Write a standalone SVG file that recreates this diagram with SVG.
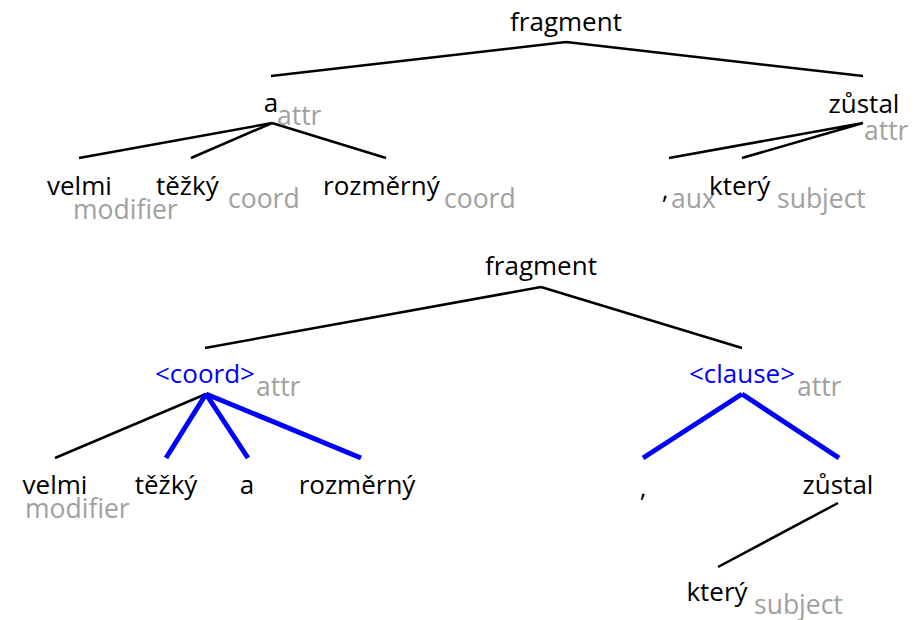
<svg xmlns="http://www.w3.org/2000/svg" width="924" height="620" viewBox="0 0 924 620">
<style>
text{font-family:"Open Sans","Noto Sans","DejaVu Sans",sans-serif;font-size:26px;fill:#000}
.s{font-size:26.5px;fill:#a0a0a0}
.b{fill:#0000ff}
.e{stroke:#000;stroke-width:2.5;fill:none}
.h{stroke:#0000ff;stroke-width:5;fill:none}
.m{text-anchor:middle}
</style>
<rect width="924" height="620" fill="#fff"/>
<g id="connectors">
<path class="e" d="M566 42L271 76M566 42L863 76"/>
<path class="e" d="M272 123L79 158M272 123L191 158M272 123L386 158"/>
<path class="e" d="M863 123L669 158M863 123L742 158"/>
<path class="e" d="M541 287L205 348M541 287L742 348"/>
<path class="e" d="M206 394L55 458"/>
<path class="h" d="M206 394L166 458M206 394L248 458M206 394L361 458"/>
<path class="h" d="M742 394L643 458M742 394L839 458"/>
<path class="e" d="M838 503L718 567"/>
</g>
<g id="t-fragment"><text x="566" y="31" class="m">fragment</text></g>
<g id="t-a"><text x="271" y="112" class="m">a</text><text x="277" y="125" class="s">attr</text></g>
<g id="t-zustal"><text x="864" y="113" class="m">zůstal</text><text x="864" y="140" class="s">attr</text></g>
<g id="t-velmi"><text x="47" y="195">velmi</text><text x="73" y="219" class="s">modifier</text></g>
<g id="t-tezky"><text x="156" y="195">těžký</text><text x="228" y="208" class="s">coord</text></g>
<g id="t-rozmerny"><text x="323" y="195">rozměrný</text><text x="444" y="208" class="s">coord</text></g>
<g id="t-comma"><text x="665" y="199" class="m">,</text><text x="671" y="208" class="s">aux</text></g>
<g id="t-ktery"><text x="709" y="195">který</text><text x="777" y="208" class="s">subject</text></g>
<g id="b-fragment"><text x="541" y="275" class="m">fragment</text></g>
<g id="b-coord"><text x="205" y="383" class="m b">&lt;coord&gt;</text><text x="256" y="396" class="s">attr</text></g>
<g id="b-clause"><text x="742" y="383" class="m b">&lt;clause&gt;</text><text x="797" y="396" class="s">attr</text></g>
<g id="b-velmi"><text x="55" y="494" class="m">velmi</text><text x="25" y="518" class="s">modifier</text></g>
<g id="b-tezky"><text x="166" y="494" class="m">těžký</text></g>
<g id="b-a"><text x="247" y="494" class="m">a</text></g>
<g id="b-rozmerny"><text x="357" y="494" class="m">rozměrný</text></g>
<g id="b-comma"><text x="643" y="497" class="m">,</text></g>
<g id="b-zustal"><text x="838" y="494" class="m">zůstal</text></g>
<g id="b-ktery"><text x="717" y="601" class="m">který</text><text x="754" y="614" class="s">subject</text></g>
</svg>
